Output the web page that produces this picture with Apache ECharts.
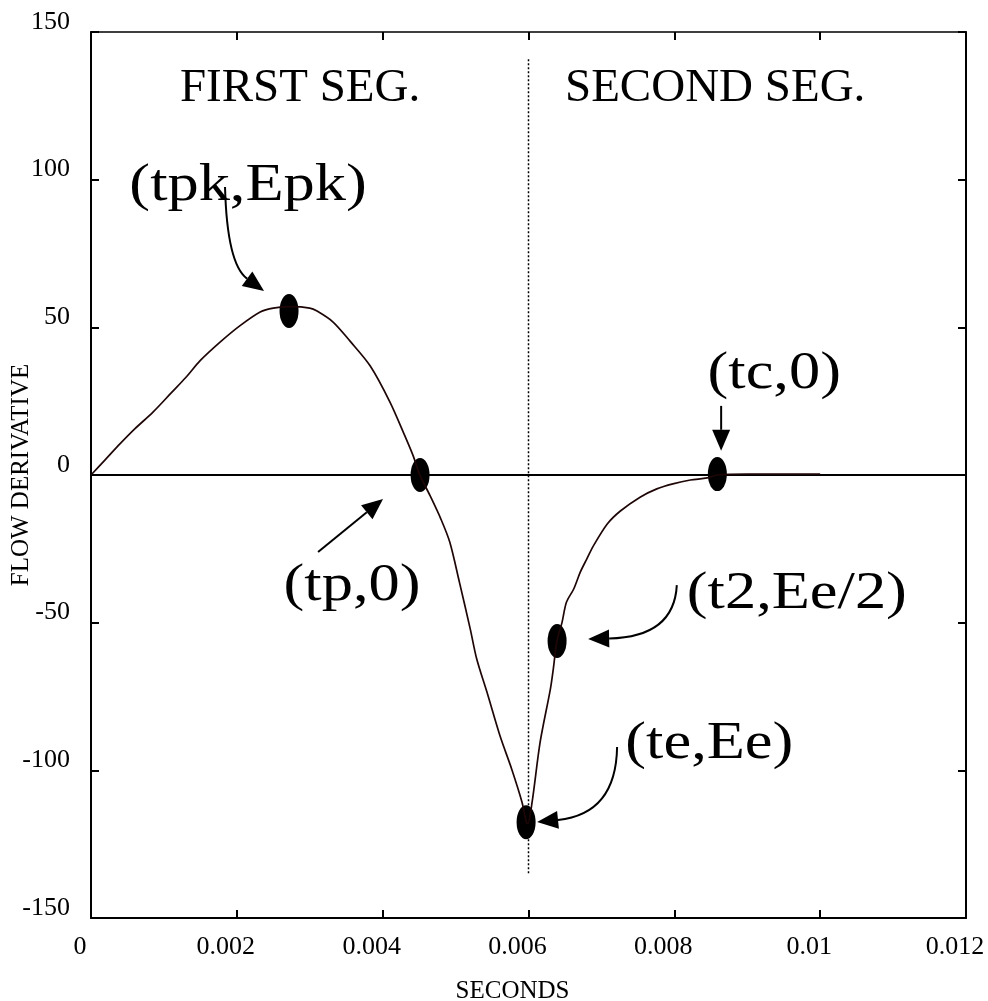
<!DOCTYPE html>
<html>
<head>
<meta charset="utf-8">
<script src="https://cdn.jsdelivr.net/npm/echarts@6/dist/echarts.min.js"></script>
<style>
  html, body { margin: 0; padding: 0; background: #fff; }
  #main { width: 988px; height: 1001px; }
</style>
</head>
<body>
<div id="main"></div>
<script>
// flow derivative waveform (time in seconds)
var flowT = [0, 0.0002, 0.0004, 0.0006, 0.00085, 0.0011, 0.0013, 0.0015, 0.00177, 0.00204,
  0.00232, 0.0025, 0.00275, 0.003, 0.0031, 0.00332, 0.00355, 0.00383, 0.0041, 0.0043,
  0.00442, 0.00451, 0.00465, 0.0048, 0.00492, 0.00505, 0.0052, 0.00529, 0.00543, 0.00561,
  0.00577, 0.00591, 0.00597, 0.00599, 0.00605, 0.00616, 0.0063, 0.00634, 0.00639, 0.00646,
  0.00652, 0.00662, 0.00671, 0.0068, 0.00689, 0.00708, 0.00726, 0.00753, 0.00776, 0.00798,
  0.00822, 0.00845, 0.00859, 0.009, 0.01];
var flowV = [0, 5.3, 10.6, 15.6, 21.3, 27.8, 33.0, 38.8, 45.0, 50.5,
  55.2, 56.5, 57.0, 56.5, 55.5, 51.8, 45.4, 36.9, 24.7, 13.5,
  6.4, 0, -7, -15, -22.7, -36, -52, -62.3, -73.5, -88.4,
  -99.6, -110.7, -117.5, -118, -110.7, -90.4, -72.5, -65.7, -56.2, -49.9,
  -43.1, -38.6, -32.9, -28.4, -24, -16.6, -12.2, -7.5, -4.7, -3.0,
  -1.7, -1.0, 0, 0.3, 0.3];

// marked points: tpk, tp, te, t2, tc
var markT = [0.002716, 0.004513, 0.005967, 0.006392, 0.00859];
var markV = [55.5, 0, -117.6, -56.2, 0.3];

// x axis ticks
var xTicks = [0, 0.002, 0.004, 0.006, 0.008, 0.01, 0.012];
// y axis ticks
var yTicks = [-150, -100, -50, 0, 50, 100, 150];

// zero line and segment divider
var zeroLine = [[0, 0], [0.0122, 0]];
var segLine = [[0.006, 140.8], [0.006, -135.2]];

// segment titles
var segText = ['FIRST SEG.', 'SECOND SEG.'];
var segT = [0.002867, 0.00856];
var segV = [130.8, 130.8];

// point labels
var annoText = ['(tpk,Epk)', '(tp,0)', '(te,Ee)', '(t2,Ee/2)', '(tc,0)'];
var annoT = [0.002154, 0.00358, 0.00848, 0.00968, 0.00937];
var annoV = [97.9, -37.6, -91.1, -40.3, 34.2];

// arrows: start, control, tip
var arrowStart = [[0.001838, 97.5], [0.003114, -26.1], [0.007215, -92.1], [0.008034, -37.3], [0.008642, 23.4]];
var arrowCtrl = [[0.001866, 71.4], [0.00356, -17.1], [0.0072, -114.8], [0.007997, -54.9], [0.008642, 15.8]];
var arrowTip = [[0.002373, 62.3], [0.004005, -8.1], [0.006118, -117.5], [0.006818, -55.5], [0.008642, 8.2]];

var FONT = "'Liberation Serif', 'Times New Roman', serif";
var SEG_FONT = 47;
var ANNO_FONT = 52;
var ANNO_SCALE = 1.2;

var flowData = flowT.map(function (t, i) { return [t, flowV[i]]; });
var markData = markT.map(function (t, i) { return [t, markV[i]]; });
var segData = segT.map(function (t, i) { return [t, segV[i], i]; });
var annoData = annoT.map(function (t, i) { return [t, annoV[i], i]; });
var arrowData = arrowStart.map(function (s, i) {
  return [s[0], s[1], arrowCtrl[i][0], arrowCtrl[i][1], arrowTip[i][0], arrowTip[i][1], i];
});

var chart = echarts.init(document.getElementById('main'));

// mirror axes on top / right, ticks only
function tickAxis(pos) {
  return {
    type: 'value', position: pos,
    axisLine: { show: true, onZero: false, lineStyle: { color: '#000', width: pos === 'top' ? 1.5 : 2 } },
    axisTick: { show: true, inside: true, length: 8, lineStyle: { color: '#000', width: 2 } },
    axisLabel: { show: false },
    splitLine: { show: false }
  };
}

var xTop = tickAxis('top');
xTop.min = 0; xTop.max = 0.012; xTop.interval = 0.002;
var yRight = tickAxis('right');
yRight.min = -150; yRight.max = 150; yRight.interval = 50;

var option = {
  animation: false,
  backgroundColor: '#fff',
  grid: { left: 91, right: 22, top: 32, bottom: 83, containLabel: false, outerBoundsMode: 'none' },
  xAxis: [{
    type: 'value', min: xTicks[0], max: xTicks[xTicks.length - 1], interval: 0.002,
    name: 'SECONDS', nameLocation: 'middle', nameGap: 61, nameMoveOverlap: false,
    nameTextStyle: { fontFamily: FONT, fontSize: 25, color: '#000', padding: [0, 32, 0, 0] },
    axisLine: { onZero: false, lineStyle: { color: '#000', width: 2 } },
    axisTick: { inside: true, length: 8, lineStyle: { color: '#000', width: 2 } },
    axisLabel: { fontFamily: FONT, fontSize: 26, color: '#000', margin: 16, padding: [0, 22, 0, 0],
      formatter: function (v) { return String(+v.toFixed(3)); } },
    splitLine: { show: false }
  }, xTop],
  yAxis: [{
    type: 'value', min: yTicks[0], max: yTicks[yTicks.length - 1], interval: 50,
    name: 'FLOW DERIVATIVE', nameLocation: 'middle', nameGap: 57, nameRotate: 90,
    nameMoveOverlap: false,
    nameTextStyle: { fontFamily: FONT, fontSize: 25, color: '#000' },
    axisLine: { onZero: false, lineStyle: { color: '#000', width: 2 } },
    axisTick: { inside: true, length: 8, lineStyle: { color: '#000', width: 2 } },
    axisLabel: { fontFamily: FONT, fontSize: 26, color: '#000', margin: 21,
      verticalAlign: 'bottom', lineHeight: 20 },
    splitLine: { show: false }
  }, yRight],
  series: [
    {
      type: 'line', data: zeroLine, symbol: 'none', clip: false, silent: true,
      lineStyle: { color: '#000', width: 2 }
    },
    {
      type: 'line', data: segLine, symbol: 'none', silent: true,
      lineStyle: { color: '#000', width: 1.5, type: [2, 2] }
    },
    {
      type: 'line', data: flowData, symbol: 'none', silent: true,
      smooth: 0.3,
      lineStyle: { color: '#1e0606', width: 1.7 }
    },
    {
      type: 'scatter', data: markData, silent: true,
      symbol: 'path://M50,0A50,50 0 1,1 50,100A50,50 0 1,1 50,0Z',
      symbolSize: [19, 34], symbolKeepAspect: false,
      itemStyle: { color: '#000', opacity: 1 }
    },
    {
      type: 'custom', data: arrowData, silent: true,
      renderItem: function (params, api) {
        var p1 = api.coord([api.value(0), api.value(1)]);
        var c = api.coord([api.value(2), api.value(3)]);
        var p2 = api.coord([api.value(4), api.value(5)]);
        var ang = Math.atan2(p2[1] - c[1], p2[0] - c[0]);
        var len = 21, hw = 9;
        var bx = p2[0] - len * Math.cos(ang), by = p2[1] - len * Math.sin(ang);
        var nx = -Math.sin(ang) * hw, ny = Math.cos(ang) * hw;
        return {
          type: 'group',
          children: [{
            type: 'bezierCurve',
            shape: { x1: p1[0], y1: p1[1], cpx1: c[0], cpy1: c[1], x2: bx, y2: by },
            style: { stroke: '#000', lineWidth: 2, fill: null }
          }, {
            type: 'polygon',
            shape: { points: [[p2[0], p2[1]], [bx + nx, by + ny], [bx - nx, by - ny]] },
            style: { fill: '#000' }
          }]
        };
      }
    },
    {
      type: 'custom', data: segData, silent: true,
      renderItem: function (params, api) {
        var p = api.coord([api.value(0), api.value(1)]);
        return {
          type: 'text', x: p[0], y: p[1],
          style: { text: segText[api.value(2)], font: SEG_FONT + 'px ' + FONT, fill: '#000',
            align: 'center', verticalAlign: 'middle' }
        };
      }
    },
    {
      type: 'custom', data: annoData, silent: true,
      renderItem: function (params, api) {
        var p = api.coord([api.value(0), api.value(1)]);
        return {
          type: 'text', x: p[0], y: p[1], scaleX: ANNO_SCALE,
          style: { text: annoText[api.value(2)], font: ANNO_FONT + 'px ' + FONT, fill: '#000',
            align: 'center', verticalAlign: 'middle' }
        };
      }
    }
  ]
};
chart.setOption(option);
</script>
</body>
</html>
